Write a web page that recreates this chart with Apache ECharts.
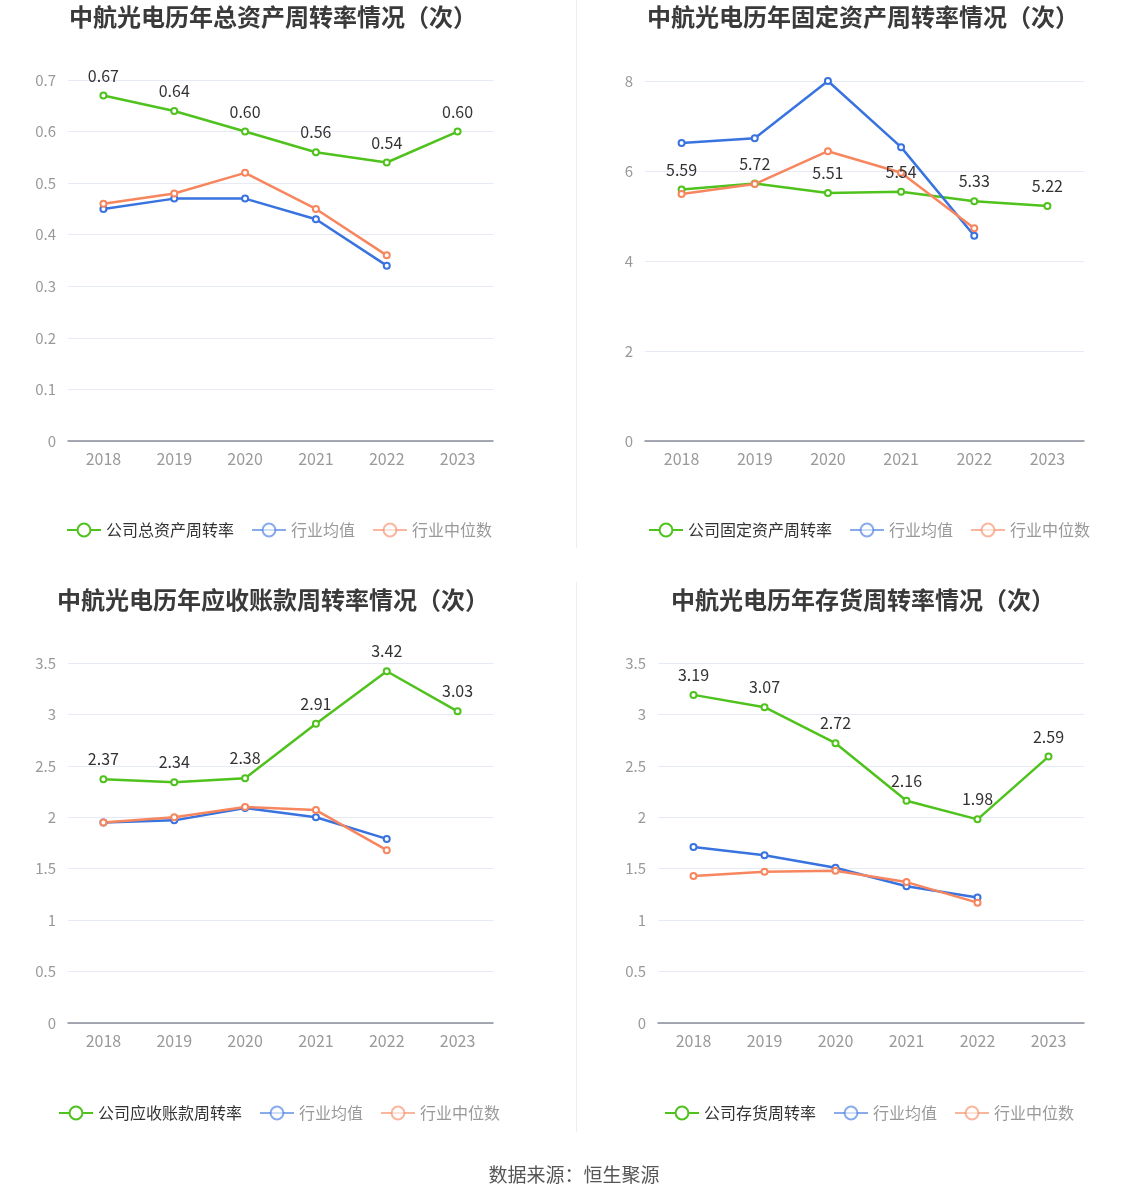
<!DOCTYPE html>
<html>
<head>
<meta charset="utf-8">
<script src="https://cdn.jsdelivr.net/npm/echarts@6/dist/echarts.min.js"></script>
<style>
  html, body { margin: 0; padding: 0; background: #fff; }
  #main { width: 1148px; height: 1202px; }
</style>
</head>
<body>
<div id="main"></div>
<script>
// 年份
const years = ['2018', '2019', '2020', '2021', '2022', '2023'];

// 总资产周转率
const totalCompany = [0.67, 0.64, 0.60, 0.56, 0.54, 0.60];
const totalAvg = [0.45, 0.47, 0.47, 0.43, 0.34];
const totalMedian = [0.46, 0.48, 0.52, 0.45, 0.36];

// 固定资产周转率
const fixedCompany = [5.59, 5.72, 5.51, 5.54, 5.33, 5.22];
const fixedAvg = [6.62, 6.73, 8.0, 6.53, 4.56];
const fixedMedian = [5.49, 5.71, 6.44, 5.96, 4.73];

// 应收账款周转率
const recvCompany = [2.37, 2.34, 2.38, 2.91, 3.42, 3.03];
const recvAvg = [1.95, 1.97, 2.09, 2.00, 1.79];
const recvMedian = [1.95, 2.00, 2.10, 2.07, 1.68];

// 存货周转率
const invCompany = [3.19, 3.07, 2.72, 2.16, 1.98, 2.59];
const invAvg = [1.71, 1.63, 1.51, 1.33, 1.22];
const invMedian = [1.43, 1.47, 1.48, 1.37, 1.17];

const titles = [
  '中航光电历年总资产周转率情况（次）',
  '中航光电历年固定资产周转率情况（次）',
  '中航光电历年应收账款周转率情况（次）',
  '中航光电历年存货周转率情况（次）',
];
const companyNames = ['公司总资产周转率', '公司固定资产周转率', '公司应收账款周转率', '公司存货周转率'];
const seriesData = [
  [totalCompany, totalAvg, totalMedian],
  [fixedCompany, fixedAvg, fixedMedian],
  [recvCompany, recvAvg, recvMedian],
  [invCompany, invAvg, invMedian],
];

const FONT = '"Noto Sans CJK SC", "Noto Sans", sans-serif';
const GREEN = '#4fc21d';
const BLUE = '#3873e0';
const ORANGE = '#f7865e';

// 每个小图的位置
const grids = [
  { left: 68, top: 80, width: 425, height: 361 },
  { left: 645, top: 81, width: 439, height: 360 },
  { left: 68, top: 663, width: 425, height: 360 },
  { left: 658, top: 663, width: 426, height: 360 },
];
const yMax = [0.7, 8, 3.5, 3.5];
const yStep = [0.1, 2, 0.5, 0.5];
const titleX = [273, 863, 273, 863];
const titleY = [17, 17, 600, 600];
const legendLeft = [61, 643, 53, 659];
const legendTop = [521, 521, 1104, 1104];

const xAxis = [], yAxis = [], series = [], legend = [], graphic = [];

grids.forEach((g, i) => {
  xAxis.push({
    type: 'category',
    gridIndex: i,
    data: years,
    boundaryGap: true,
    axisLine: { lineStyle: { color: '#8b8d99', width: 1.5 } },
    axisTick: { alignWithLabel: true, lineStyle: { color: '#8b8d99' } },
    axisLabel: { color: '#999', fontSize: 16, margin: 10, fontFamily: FONT },
  });
  yAxis.push({
    type: 'value',
    gridIndex: i,
    min: 0,
    max: yMax[i],
    interval: yStep[i],
    axisLine: { show: false },
    axisTick: { show: false },
    axisLabel: { color: '#999', fontSize: 15, margin: 12, fontFamily: FONT },
    splitLine: { lineStyle: { color: '#e6eaf5' } },
  });

  const [comp, avg, med] = seriesData[i];
  series.push({
    name: companyNames[i],
    type: 'line',
    xAxisIndex: i,
    yAxisIndex: i,
    data: comp,
    symbol: 'emptyCircle',
    symbolSize: 6,
    lineStyle: { width: 2.5, color: GREEN },
    itemStyle: { color: GREEN, borderWidth: 2 },
    label: {
      show: true,
      position: 'top',
      distance: 8,
      color: '#333',
      fontSize: 16,
      fontFamily: FONT,
      formatter: (p) => p.value.toFixed(2),
    },
    z: 3,
  });
  series.push({
    name: '行业均值',
    type: 'line',
    xAxisIndex: i,
    yAxisIndex: i,
    data: avg,
    symbol: 'emptyCircle',
    symbolSize: 6,
    lineStyle: { width: 2.5, color: BLUE },
    itemStyle: { color: BLUE, borderWidth: 2 },
  });
  series.push({
    name: '行业中位数',
    type: 'line',
    xAxisIndex: i,
    yAxisIndex: i,
    data: med,
    symbol: 'emptyCircle',
    symbolSize: 6,
    lineStyle: { width: 2.5, color: ORANGE },
    itemStyle: { color: ORANGE, borderWidth: 2 },
  });

  legend.push({
    left: legendLeft[i],
    top: legendTop[i] - 4,
    itemWidth: 34,
    itemHeight: 16,
    itemGap: 17,
    textStyle: { fontSize: 16, color: '#333', fontFamily: FONT },
    data: [
      { name: companyNames[i] },
      { name: '行业均值', textStyle: { color: '#999' }, itemStyle: { opacity: 0.6 }, lineStyle: { opacity: 0.6 } },
      { name: '行业中位数', textStyle: { color: '#999' }, itemStyle: { opacity: 0.6 }, lineStyle: { opacity: 0.6 } },
    ],
  });

  graphic.push({
    type: 'text',
    x: titleX[i],
    y: titleY[i],
    style: {
      text: titles[i],
      fill: '#3a3a3a',
      font: 'bold 24px ' + FONT,
      textAlign: 'center',
      textVerticalAlign: 'middle',
    },
  });
});

// 分隔线
graphic.push({ type: 'line', shape: { x1: 576.5, y1: 0, x2: 576.5, y2: 548 }, style: { stroke: '#eeeeee', lineWidth: 1 } });
graphic.push({ type: 'line', shape: { x1: 576.5, y1: 582, x2: 576.5, y2: 1132 }, style: { stroke: '#eeeeee', lineWidth: 1 } });
// 数据来源
graphic.push({
  type: 'text',
  x: 574,
  y: 1175,
  style: {
    text: '数据来源：恒生聚源',
    fill: '#555',
    font: '19px ' + FONT,
    textAlign: 'center',
    textVerticalAlign: 'middle',
  },
});

const myChart = echarts.init(document.getElementById('main'));
myChart.setOption({
  animation: false,
  backgroundColor: '#fff',
  grid: grids,
  xAxis,
  yAxis,
  series,
  legend,
  graphic,
});
</script>
</body>
</html>
